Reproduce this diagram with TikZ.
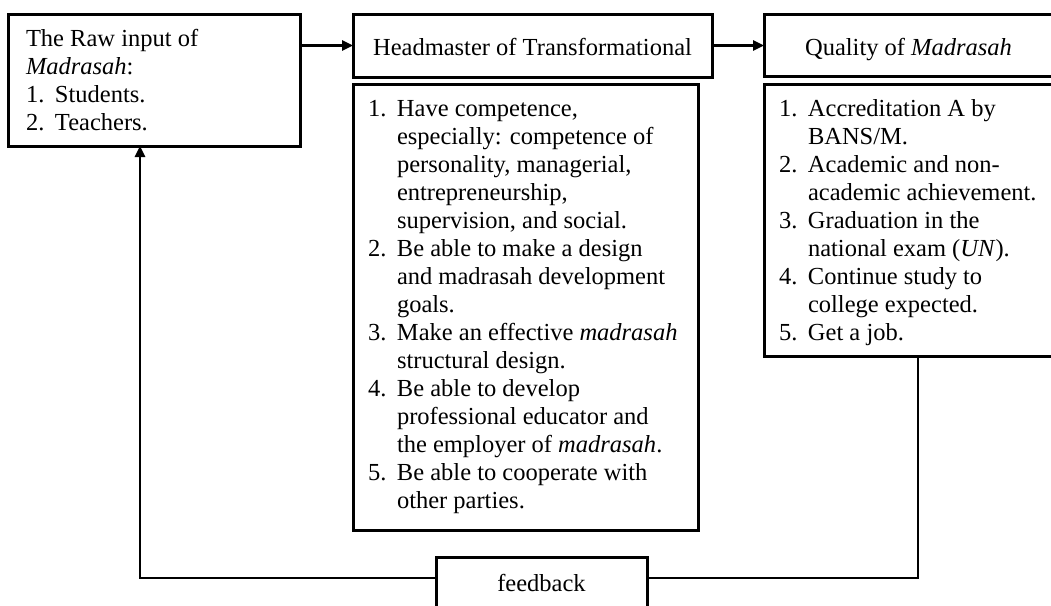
\documentclass[tikz,border=0pt]{standalone}
\usepackage{fontspec}
\setmainfont{Liberation Serif}
\usetikzlibrary{arrows.meta}

% numbered rows: number column plus hanging text
\newcommand\numrows[1]{\begin{tabular}[t]{@{}p{29pt}@{}l@{}}#1\end{tabular}}
\newcommand\wide[1]{\multicolumn{2}{@{}l@{}}{#1}}

\begin{document}
\begin{tikzpicture}[x=1pt,y=-1pt,
  boxframe/.style={draw=black,line width=3pt,inner sep=0pt,outer sep=0pt,rectangle},
  txt/.style={inner sep=0pt,outer sep=0pt,font=\fontsize{24.5}{28}\selectfont,text=black},
  link/.style={draw=black,line width=2.5pt},
  arr/.style={link,-{Triangle[length=11pt,width=10pt]}},
]
\useasboundingbox (0,0) rectangle (1051,605);
\clip (0,0) rectangle (1051,605);

% frames
\node[boxframe,minimum width=292pt,minimum height=132pt] (raw) at (154,80) {};
\node[boxframe,minimum width=359pt,minimum height=63pt] (head) at (532.5,45.5) {};
\node[boxframe,minimum width=345pt,minimum height=446pt] (headlist) at (525.5,307) {};
\node[boxframe,minimum width=294pt,minimum height=62pt] (qual) at (911,45) {};
\node[boxframe,minimum width=294pt,minimum height=272pt] (quallist) at (911,220) {};
\node[boxframe,minimum width=211pt,minimum height=63pt] (fb) at (541.5,588.5) {};

% texts
\node[txt,anchor=base west] (rawtext) at (26,46) {\numrows{%
  \wide{The Raw input of}\\
  \wide{\textit{Madrasah}:}\\
  1. & Students.\\
  2. & Teachers.}};

\node[txt,anchor=base] (headtext) at (532.5,55) {Headmaster of Transformational};

\node[txt,anchor=base west] (headlisttext) at (368,116) {\numrows{%
  1. & Have competence,\\
     & especially: competence of\\
     & personality, managerial,\\
     & entrepreneurship,\\
     & supervision, and social.\\
  2. & Be able to make a design\\
     & and madrasah development\\
     & goals.\\
  3. & Make an effective \textit{madrasah}\\
     & structural design.\\
  4. & Be able to develop\\
     & professional educator and\\
     & the employer of \textit{madrasah}.\\
  5. & Be able to cooperate with\\
     & other parties.}};

\node[txt,anchor=base] (qualtext) at (908.5,55) {Quality of \textit{Madrasah}};

\node[txt,anchor=base west] (quallisttext) at (779,116) {\numrows{%
  1. & Accreditation A by\\
     & BANS/M.\\
  2. & Academic and non-\\
     & academic achievement.\\
  3. & Graduation in the\\
     & national exam (\textit{UN}).\\
  4. & Continue study to\\
     & college expected.\\
  5. & Get a job.}};

\node[txt,anchor=base] (fbtext) at (541.5,591) {feedback};

% connectors
\coordinate (fl) at (140,578);
\coordinate (fr) at (918,578);
\draw[arr] (head.west -| raw.east) -- (head.west);
\draw[arr] (head.east) -- (head.east -| qual.west);
\draw[link] (fr |- quallist.south) -- (fr) -- (fr -| fb.east);
\draw[arr] (fl -| fb.west) -- (fl) -- (fl |- raw.south);
\end{tikzpicture}
\end{document}
